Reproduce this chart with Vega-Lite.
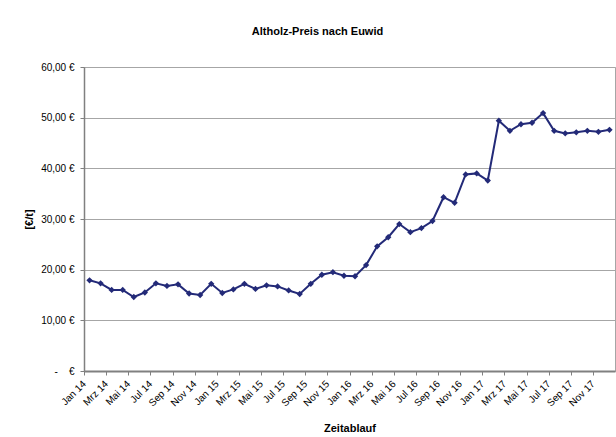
{
  "$schema": "https://vega.github.io/schema/vega-lite/v6.json",
  "autosize": "none",
  "width": 531,
  "height": 304,
  "padding": {"left": 84, "top": 67, "right": 1, "bottom": 66},
  "background": "white",
  "title": {
    "text": "Altholz-Preis nach Euwid",
    "fontSize": 11,
    "fontWeight": "bold",
    "font": "Liberation Sans",
    "color": "#000000",
    "anchor": "middle",
    "dx": -32,
    "offset": 25
  },
  "data": {
    "values": [
      {"Monat": "Jan 14", "Preis": 17.9},
      {"Monat": "Feb 14", "Preis": 17.3},
      {"Monat": "Mrz 14", "Preis": 16.0},
      {"Monat": "Apr 14", "Preis": 16.0},
      {"Monat": "Mai 14", "Preis": 14.6},
      {"Monat": "Jun 14", "Preis": 15.5},
      {"Monat": "Jul 14", "Preis": 17.3},
      {"Monat": "Aug 14", "Preis": 16.8},
      {"Monat": "Sep 14", "Preis": 17.1},
      {"Monat": "Okt 14", "Preis": 15.3},
      {"Monat": "Nov 14", "Preis": 15.0},
      {"Monat": "Dez 14", "Preis": 17.2},
      {"Monat": "Jan 15", "Preis": 15.4},
      {"Monat": "Feb 15", "Preis": 16.1},
      {"Monat": "Mrz 15", "Preis": 17.2},
      {"Monat": "Apr 15", "Preis": 16.2},
      {"Monat": "Mai 15", "Preis": 16.9},
      {"Monat": "Jun 15", "Preis": 16.7},
      {"Monat": "Jul 15", "Preis": 15.9},
      {"Monat": "Aug 15", "Preis": 15.2},
      {"Monat": "Sep 15", "Preis": 17.2},
      {"Monat": "Okt 15", "Preis": 19.0},
      {"Monat": "Nov 15", "Preis": 19.5},
      {"Monat": "Dez 15", "Preis": 18.8},
      {"Monat": "Jan 16", "Preis": 18.7},
      {"Monat": "Feb 16", "Preis": 20.9},
      {"Monat": "Mrz 16", "Preis": 24.6},
      {"Monat": "Apr 16", "Preis": 26.4},
      {"Monat": "Mai 16", "Preis": 29.0},
      {"Monat": "Jun 16", "Preis": 27.4},
      {"Monat": "Jul 16", "Preis": 28.2},
      {"Monat": "Aug 16", "Preis": 29.6},
      {"Monat": "Sep 16", "Preis": 34.3},
      {"Monat": "Okt 16", "Preis": 33.2},
      {"Monat": "Nov 16", "Preis": 38.8},
      {"Monat": "Dez 16", "Preis": 39.0},
      {"Monat": "Jan 17", "Preis": 37.6},
      {"Monat": "Feb 17", "Preis": 49.4},
      {"Monat": "Mrz 17", "Preis": 47.4},
      {"Monat": "Apr 17", "Preis": 48.7},
      {"Monat": "Mai 17", "Preis": 49.0},
      {"Monat": "Jun 17", "Preis": 50.9},
      {"Monat": "Jul 17", "Preis": 47.4},
      {"Monat": "Aug 17", "Preis": 46.9},
      {"Monat": "Sep 17", "Preis": 47.1},
      {"Monat": "Okt 17", "Preis": 47.4},
      {"Monat": "Nov 17", "Preis": 47.2},
      {"Monat": "Dez 17", "Preis": 47.6}
    ]
  },
  "mark": {
    "type": "line",
    "color": "#232a78",
    "strokeWidth": 2,
    "point": {"shape": "diamond", "size": 40, "filled": true, "color": "#232a78", "opacity": 1}
  },
  "encoding": {
    "x": {
      "field": "Monat",
      "type": "ordinal",
      "sort": null,
      "scale": {"type": "point", "padding": 0.5},
      "axis": {
        "title": "Zeitablauf",
        "values": ["Jan 14", "Mrz 14", "Mai 14", "Jul 14", "Sep 14", "Nov 14",
                   "Jan 15", "Mrz 15", "Mai 15", "Jul 15", "Sep 15", "Nov 15",
                   "Jan 16", "Mrz 16", "Mai 16", "Jul 16", "Sep 16", "Nov 16",
                   "Jan 17", "Mrz 17", "Mai 17", "Jul 17", "Sep 17", "Nov 17"],
        "labelAngle": -45,
        "labelAlign": "right",
        "labelBaseline": "middle",
        "labelPadding": 7,
        "labelFontSize": 10,
        "tickOffset": -5.53,
        "tickSize": 4,
        "tickColor": "#808080",
        "domainColor": "#808080",
        "domainWidth": 2,
        "grid": false,
        "titlePadding": 15
      }
    },
    "y": {
      "field": "Preis",
      "type": "quantitative",
      "scale": {"domain": [0, 60], "nice": false, "zero": true},
      "axis": {
        "title": "[€/t]",
        "values": [0, 10, 20, 30, 40, 50, 60],
        "labelExpr": "datum.value == 0 ? '-\u00a0\u00a0\u00a0\u00a0€' : replace(format(datum.value, '.2f'), '.', ',') + ' €'",
        "labelFontSize": 10,
        "labelPadding": 6,
        "tickSize": 4,
        "tickColor": "#808080",
        "domainColor": "#808080",
        "domainWidth": 1.5,
        "grid": true,
        "gridColor": "#a6a6a6",
        "gridWidth": 1,
        "titlePadding": 6
      }
    }
  },
  "config": {
    "font": "Liberation Sans",
    "view": {"stroke": "#a6a6a6", "strokeWidth": 1},
    "axis": {
      "labelColor": "#000000",
      "titleColor": "#000000",
      "titleFontSize": 11,
      "titleFontWeight": "bold",
      "labelFont": "Liberation Sans",
      "titleFont": "Liberation Sans"
    }
  }
}
